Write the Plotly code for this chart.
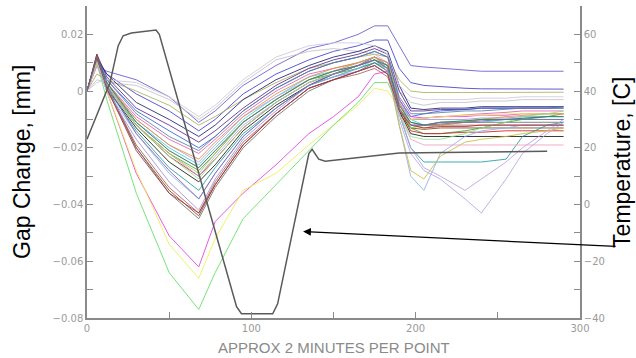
import plotly.graph_objects as go

# sample positions (approx. 2 minutes per point)
x_pts = [0, 6, 12, 30, 50, 68, 78, 95, 115, 135, 150, 165, 175, 183, 190, 197,
         205, 215, 230, 240, 255, 265, 280, 290]

# gap change of each sensor, in micrometres
c01 = [0, 9, 7, 4, -2, -11, -7, 2, 9, 15, 17, 20, 23, 23, 16, 9, 8.5, 8, 7.5, 7, 7, 7, 7, 7]
c02 = [0, 11, 6, -1, -7, -14, -10, -1, 6, 11, 14, 16, 18, 18, 8, 3, 2, 1.5, 1, 0.8, 0.7, 0.7, 0.7, 0.7]
c03 = [0, 6, 4, 0, -5, -12, -9, -3, 3, 8, 10, 12, 13, 12, 4, 0, -0.5, -0.6, -0.5, -0.5, -0.4, -0.4, -0.4, -0.4]
c04 = [0, 4, 3, 2, -3, -10, -6, 3, 11, 14, 15, 14, 13, 10, 0, -4, -5, -4, -4, -3.5, -3.5, -3, -3, -3]
c05 = [0, 12, 6, -4, -10, -16, -12, -3, 4, 9, 12, 14, 16, 14, 2, -6, -6.5, -6, -6, -5.5, -5.5, -5.5, -5.5, -5.5]
c06 = [0, 13, 5, -6, -12, -18, -14, -6, 2, 8, 11, 13, 15, 13, 0, -7, -7, -6.5, -6.5, -6, -6, -6, -6, -6]
c07 = [0, 12, 4, -7, -14, -20, -16, -7, 1, 7, 10, 12, 14, 12, -3, -9, -8, -7, -6.5, -6, -6, -6, -6, -5.5]
c08 = [0, 11, 3, -9, -17, -22, -17, -8, 0, 6, 8, 10, 12, 10, -4, -10, -9.5, -9, -8.5, -8, -7.5, -7, -7, -7]
c09 = [0, 10, 2, -11, -20, -26, -20, -10, -2, 5, 7, 9, 11, 9, -3, -10, -12, -12, -11, -11, -10, -9.5, -9, -9]
c10 = [0, 12, 3, -12, -22, -28, -22, -11, -3, 4, 6, 8, 10, 8, -6, -13, -15, -15, -14, -13, -11, -10, -9, -8]
c11 = [0, 11, 2, -12, -23, -30, -24, -13, -4, 3, 6, 9, 11, 8, -6, -14, -15, -15, -14.5, -14.5, -14, -14, -14, -14]
c12 = [0, 12, 1, -13, -25, -32, -26, -14, -5, 2, 6, 9, 12, 9, -7, -15, -16, -16, -16, -16, -16, -16, -16, -16]
c13 = [0, 13, 2, -20, -35, -44, -33, -19, -8, 1, 4, 7, 9, 6, -8, -13, -13.5, -13, -13, -13, -13, -13, -13, -13]
c14 = [0, 12, 1, -20, -36, -45, -34, -20, -9, 0, 4, 7, 10, 7, -6, -11, -12, -11.5, -11, -11, -11, -11, -11, -11]
c15 = [0, 11, 1, -19, -34, -43, -32, -18, -8, 1, 4, 6, 8, 5, -7, -12, -12, -12, -12, -12, -12, -12, -12, -12]
c16 = [0, 10, 0, -17, -32, -42, -31, -17, -7, 2, 5, 7, 9, 6, -5, -10, -10, -10, -10, -9.5, -9.5, -9, -9, -9]
c17 = [0, 11, 0, -29, -51, -62, -46, -36, -26, -15, -9, -2, 6, 7, -3, -9, -9.5, -9, -9, -8.5, -8.5, -8, -8, -8]
c18 = [0, 10, 0, -28, -54, -66, -52, -35, -29, -19, -12, -5, 1, 0, -6, -10, -9.5, -9, -8.5, -8.5, -8, -8, -8, -8]
c19 = [0, 10, -3, -36, -64, -77, -64, -45, -33, -21, -12, -4, 3, 3, -6, -13, -12, -11, -10.5, -10, -10, -10, -10, -10]
c20 = [0, 11, 1, -14, -27, -35, -27, -15, -6, 2, 5, 8, 10, 7, -8, -20, -25, -25, -25, -25, -24, -16, -12, -11]
c21 = [0, 10, 0, -15, -29, -38, -29, -16, -6, 2, 5, 8, 11, 7, -12, -30, -35, -22, -16, -14, -13, -12, -12, -12]
c22 = [0, 9, 1, -12, -22, -30, -23, -12, -4, 3, 6, 9, 12, 9, -10, -22, -28, -31, -38, -43, -31, -22, -15, -11]
c23 = [0, 9, 2, -10, -19, -25, -19, -9, -2, 4, 7, 10, 12, 9, -8, -20, -27, -30, -35, -31, -25, -20, -14, -10]
c24 = [0, 10, 2, -12, -22, -29, -22, -11, -3, 4, 7, 10, 12, 8, -12, -28, -31, -23, -18, -17, -16, -15, -14, -13]
c25 = [0, 11, 3, -10, -19, -24, -18, -9, -1, 5, 8, 10, 12, 10, -4, -12, -13, -12, -11, -10, -9, -8.5, -8, -8]
c26 = [0, 12, 4, -8, -16, -21, -16, -7, 1, 7, 10, 12, 14, 12, -2, -8, -8, -7.5, -7, -7, -6.5, -6, -6, -6]
c27 = [0, 9, 2, -11, -21, -27, -21, -11, -3, 4, 7, 9, 11, 8, -8, -17, -19, -19, -19, -19, -19, -19, -19, -19]
c28 = [0, 10, 2, -12, -23, -31, -24, -13, -4, 3, 6, 9, 11, 8, -8, -16, -17, -17, -15, -13, -11, -9, -8, -7]
c29 = [0, 12, 3, -11, -21, -27, -21, -11, -3, 4, 7, 9, 11, 9, -5, -11, -12, -11, -10.5, -10, -10, -9.5, -9, -9]
c30 = [0, 3, 4, 3, -2, -9, -5, 4, 12, 16, 17, 17, 16, 13, 2, -2, -3, -3, -3, -2.5, -2.5, -2, -2, -2]
c31 = [0, 12, 1, -21, -36, -43, -33, -19, -8, 1, 4, 7, 9, 6, -7, -12, -13, -12.5, -12.5, -12, -12, -12, -12, -12]
c32 = [0, 12, 2, -15, -28, -38, -29, -16, -6, 2, 6, 9, 11, 8, -6, -12, -12, -11, -11, -10.5, -10, -10, -10, -10]

series = [c01, c02, c03, c04, c05, c06, c07, c08, c09, c10, c11, c12, c13, c14, c15, c16,
          c17, c18, c19, c20, c21, c22, c23, c24, c25, c26, c27, c28, c29, c30, c31, c32]

line_colors = ["#6a5acd", "#4040d0", "#b0b060", "#c4c4c4", "#202070", "#602a90", "#3060e0",
               "#e060b0", "#40d0e0", "#30b040", "#d02020", "#151515", "#8b4513", "#707070",
               "#b06060", "#a090d0", "#e040e0", "#f0f050", "#60e060", "#20a0a0", "#90b0f0",
               "#b0a8e8", "#c0a0e0", "#c8c040", "#e09040", "#6080a0", "#f0a0c0", "#90e090",
               "#208060", "#d0c8e0", "#a03040", "#8060b0"]

# temperature trace (deg C)
temp_x = [0, 14, 19, 22, 27, 42, 44, 91, 94, 113, 116, 135, 137, 141, 145, 190, 280]
temp_c = [23, 43, 56, 59.5, 60.5, 61.5, 60, -36, -38.5, -38.5, -35, 18, 19.5, 16, 15.3, 18.2, 18.8]

x_ticks = [0, 100, 200, 300]
gap_ticks = [-0.08, -0.06, -0.04, -0.02, 0, 0.02]
temp_ticks = [-40, -20, 0, 20, 40, 60]

fig = go.Figure()
for vals, col in zip(series, line_colors):
    fig.add_trace(go.Scatter(x=x_pts, y=[v / 1000 for v in vals], mode="lines",
                             line=dict(color=col, width=1), opacity=0.85,
                             showlegend=False, hoverinfo="skip"))

fig.add_trace(go.Scatter(x=temp_x, y=temp_c, mode="lines", yaxis="y2",
                         line=dict(color="#5a5a5a", width=1.5), showlegend=False))

axis_col = "#8a8a8a"
tick_font = dict(family="DejaVu Sans", size=10, color="#9a9a9a")

fig.update_layout(
    width=636, height=358,
    margin=dict(l=87, r=56, t=6, b=40),
    paper_bgcolor="white", plot_bgcolor="white",
    xaxis=dict(range=[0, 300], tickvals=x_ticks, showgrid=False, zeroline=False,
               showline=True, linecolor=axis_col, linewidth=1.5,
               ticks="inside", ticklen=6, tickcolor=axis_col,
               minor=dict(dtick=50, ticks="inside", ticklen=6, tickcolor=axis_col),
               tickfont=tick_font),
    yaxis=dict(range=[-0.08, 0.03], tickvals=gap_ticks, showgrid=False, zeroline=False,
               showline=True, linecolor=axis_col, linewidth=1.5,
               ticks="inside", ticklen=6, tickcolor=axis_col,
               minor=dict(dtick=0.01, ticks="inside", ticklen=6, tickcolor=axis_col),
               tickfont=tick_font),
    yaxis2=dict(range=[-40, 70], tickvals=temp_ticks, overlaying="y", side="right",
                showgrid=False, zeroline=False,
                showline=True, linecolor=axis_col, linewidth=1.5,
                ticks="inside", ticklen=6, tickcolor=axis_col,
                minor=dict(dtick=10, ticks="inside", ticklen=6, tickcolor=axis_col),
                tickfont=tick_font),
    annotations=[
        dict(text="Gap Change, [mm]", xref="paper", yref="paper", x=-0.132, y=0.5,
             textangle=-90, showarrow=False, xanchor="center", yanchor="middle",
             font=dict(family="Liberation Sans", size=23, color="black")),
        dict(text="Temperature, [C]", xref="paper", yref="paper", x=1.085, y=0.5,
             textangle=-90, showarrow=False, xanchor="center", yanchor="middle",
             font=dict(family="Liberation Sans", size=23, color="black")),
        dict(text="APPROX 2 MINUTES PER POINT", xref="paper", yref="paper", x=0.5, y=-0.095,
             showarrow=False, xanchor="center", yanchor="middle",
             font=dict(family="Liberation Sans", size=15, color="#8a8a8a")),
        dict(text="", x=131.5, y=-0.0495, xref="x", yref="y", showarrow=True,
             arrowhead=2, arrowsize=1.2, arrowwidth=1.3, arrowcolor="black",
             ax=314, ay=15, axref="pixel", ayref="pixel"),
    ],
)

fig.write_html("out.html")
